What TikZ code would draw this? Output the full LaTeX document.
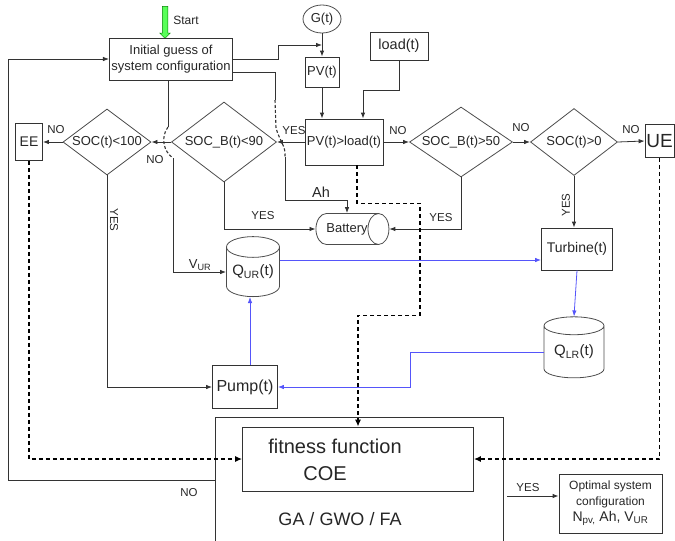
\documentclass[tikz,border=0pt]{standalone}
\usepackage{fontspec}
\setmainfont{Liberation Sans}
\usetikzlibrary{shapes.geometric,shapes.arrows,arrows.meta}
\definecolor{flowblue}{RGB}{85,85,250}

\begin{document}
\begin{tikzpicture}[x=1pt, y=-1pt, line width=0.8pt,
  every node/.style={font=\fontsize{13}{16}\selectfont, text=black!85},
  box/.style={draw=black!80, inner sep=2pt},
  test/.style={draw=black!70, diamond, inner sep=0pt},
  tank/.style={draw=black!70, cylinder, inner sep=0pt},
  wire/.style={draw=black!80},
  arr/.style={draw=black!80, -{Latex[length=6pt,width=4.5pt]}},
  flow/.style={draw=flowblue, -{Latex[length=6pt,width=4.5pt]}},
  signal/.style={draw=black, line width=1.3pt, dash pattern=on 4pt off 3pt, -{Latex[length=7pt,width=6pt]}},
  hop/.style={draw=black!80, line width=1.1pt, dash pattern=on 3pt off 2pt},
  lbl/.style={font=\fontsize{11.5}{13}\selectfont}]
  \useasboundingbox (0,0) rectangle (675,541);

  % top row
  \node[single arrow, draw=green!50!black, fill=green!65, rotate=-90, minimum height=32pt,
    single arrow head extend=2.5pt, inner sep=2.5pt, line width=0.5pt] (start) at (165,21) {};
  \node[font=\fontsize{12}{14}\selectfont] (startlbl) at (186,20) {Start};
  \node[box, minimum width=122pt, minimum height=42pt, align=center] (init) at (171,59) {Initial guess of\\system configuration};
  \node[draw=black!70, ellipse, minimum width=38pt, minimum height=28pt, inner sep=0pt] (g) at (322,19) {G(t)};
  \node[box, minimum width=34pt, minimum height=30pt] (pv) at (322,72) {PV(t)};
  \node[box, minimum width=58pt, minimum height=28pt, font=\fontsize{14.5}{16}\selectfont] (load) at (399,46) {load(t)};

  % decision row
  \node[box, minimum width=78pt, minimum height=46pt] (pvload) at (344,142) {PV(t)>load(t)};
  \node[test, aspect=1.3, minimum width=105pt, minimum height=80pt] (socb90) at (224,142) {SOC\_B(t)<90};
  \node[test, aspect=1.35, minimum width=88pt, minimum height=66pt] (soc100) at (107,142) {SOC(t)<100};
  \node[box, minimum width=27pt, minimum height=37pt, font=\fontsize{14}{16}\selectfont] (ee) at (29,142) {EE};
  \node[test, aspect=1.47, minimum width=103pt, minimum height=70pt] (socb50) at (461,142) {SOC\_B(t)>50};
  \node[test, aspect=1.3, minimum width=87pt, minimum height=67pt] (soc0) at (574,142) {SOC(t)>0};
  \node[box, minimum width=29pt, minimum height=33pt, inner sep=0.5pt, font=\fontsize{19}{21}\selectfont] (ue) at (659.5,141) {UE};

  % storage and flows
  \node[tank, aspect=1.8, minimum width=31pt, minimum height=70pt] (battery) at (347,229) {Battery};
  \node[tank, shape border rotate=90, aspect=0.5, minimum width=53pt, minimum height=60pt, font=\fontsize{15}{17}\selectfont] (qur) at (253,272) {Q\textsubscript{UR}(t)};
  \node[tank, shape border rotate=90, aspect=0.45, minimum width=60pt, minimum height=61pt, font=\fontsize{15}{17}\selectfont] (qlr) at (574,352) {Q\textsubscript{LR}(t)};
  \node[box, minimum width=71pt, minimum height=42pt, font=\fontsize{14}{16}\selectfont] (turbine) at (577,249) {Turbine(t)};
  \node[box, minimum width=65pt, minimum height=43pt, font=\fontsize{16}{18}\selectfont] (pump) at (245,387) {Pump(t)};

  % optimiser
  \node[box, minimum width=288pt, minimum height=150pt] (ga) at (359.5,492) {};
  \node[box, minimum width=231pt, minimum height=64pt] (fitness) at (358,459) {};
  \node[font=\fontsize{20}{22}\selectfont] (fitlbl) at (335,446) {fitness function};
  \node[font=\fontsize{20}{22}\selectfont] (coe) at (325,474) {COE};
  \node[font=\fontsize{18}{20}\selectfont] (galbl) at (340,519) {GA / GWO / FA};
  \node[box, minimum width=103pt, minimum height=59pt, align=center, inner sep=1pt, font=\fontsize{12}{16}\selectfont] (opt) at (610.5,503.5)
    {Optimal system\\configuration\\{\fontsize{14}{16}\selectfont N\textsubscript{pv,} Ah, V\textsubscript{UR}}};

  % connectors
  \coordinate (gj) at (322,45);
  \draw[arr] (g) -- (pv);
  \draw[arr] (init.east) -- ++(45,0) |- (gj);
  \draw[arr] (pv.south) -- (pv.south |- pvload.north);
  \draw[arr] (load.south) -- ++(0,30) -| ([xshift=19pt]pvload.north);
  \draw[arr] (pvload.west) -- (socb90.east);
  \draw[arr] (socb90.west) -- (soc100.east);
  \draw[arr] (soc100.west) -- (ee.east);
  \draw[arr] (pvload.east) -- (socb50.west);
  \draw[arr] (socb50.east) -- (soc0.west);
  \draw[arr] (soc0.east) -- (ue.west);
  \draw[arr] (socb50.south) |- (battery.east);
  \draw[arr] (socb90.south) |- (battery.west);
  \draw[arr] (soc0.south) -- (soc0.south |- turbine.north);
  \draw[arr] (soc100.south) |- (pump.west);
  \draw[flow] (turbine.south) -- (qlr.north);
  \draw[flow] (qlr.west) -- ++(-133,0) |- (pump.east);
  \draw[flow] ([xshift=5pt]pump.north) -- ([xshift=5pt]pump.north |- qur.south);
  \draw[flow] ([yshift=12pt]qur.east) -- ([yshift=12pt]qur.east -| turbine.west);

  % V_UR line with hop
  \coordinate (vhop1) at (168,127);
  \coordinate (vhop2) at (173,158);
  \draw[wire] ([xshift=-3pt]init.south) -- (vhop1);
  \draw[hop] (vhop1) .. controls (160,138) and (164,152) .. (vhop2);
  \draw[arr] (vhop2) |- (qur.west);

  % Ah line with hop
  \coordinate (ahop1) at (275,100);
  \coordinate (ahop2) at (285,157);
  \draw[wire] ([yshift=-13pt]init.east) -| (ahop1);
  \draw[hop] (ahop1) -- (276,128) .. controls (280,142) and (286,146) .. (ahop2);
  \draw[arr] (ahop2) -- ++(0,43) -| (battery.north);

  % signals to the fitness function
  \draw[signal] ([xshift=13pt]pvload.south) -- ++(0,38) -- ++(63,0) -- ++(0,112) -| (fitness.north);
  \draw[signal] (ee.south) |- (fitness.west);
  \draw[signal] (ue.south) |- (fitness.east);

  % loop back and result
  \draw[arr] ([yshift=12pt]ga.west) -- ++(-207,0) |- (init.west);
  \coordinate (optin) at (507,496);
  \draw[arr] (optin) -- (optin -| opt.west);

  % labels
  \node[lbl] (yes1) at (294,131) {YES};
  \node[lbl] (no1) at (155,160) {NO};
  \node[lbl] (no2) at (56,130) {NO};
  \node[lbl] (no3) at (398,131) {NO};
  \node[lbl] (no4) at (521,128) {NO};
  \node[lbl] (no5) at (631,130) {NO};
  \node[lbl] (yes2) at (263,216) {YES};
  \node[lbl] (yes3) at (441,218) {YES};
  \node[lbl, rotate=-90] (yes4) at (114,220) {YES};
  \node[lbl, rotate=90] (yes5) at (566,205) {YES};
  \node[font=\fontsize{14.5}{16}\selectfont] (ahlbl) at (321,192) {Ah};
  \node (vurlbl) at (200,265) {V\textsubscript{UR}};
  \node[lbl] (no6) at (189,493) {NO};
  \node[lbl] (yes6) at (528,488) {YES};
\end{tikzpicture}
\end{document}
